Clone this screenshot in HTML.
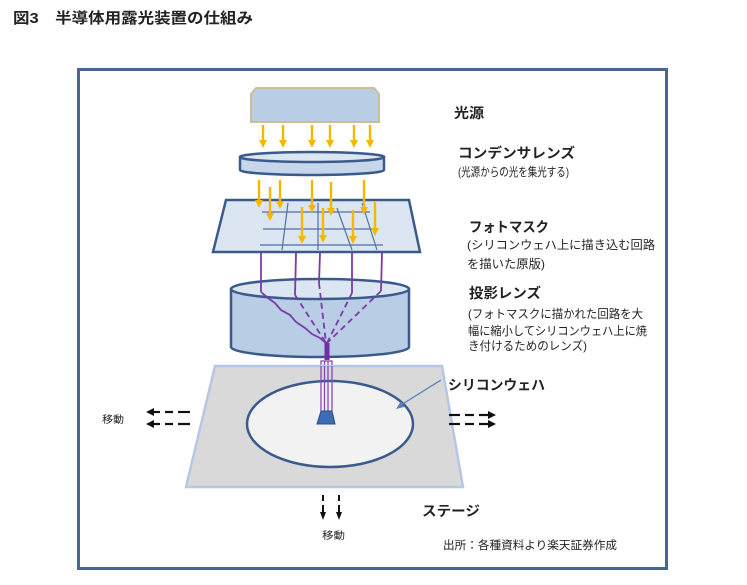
<!DOCTYPE html>
<html><head><meta charset="utf-8">
<style>
html,body{margin:0;padding:0;background:#fff;}
svg{display:block;}
text{font-family:"Liberation Sans","Noto Sans CJK JP",sans-serif;fill:#222;}
.b{font-weight:bold;}
</style></head>
<body>
<svg width="747" height="585" viewBox="0 0 747 585" xmlns="http://www.w3.org/2000/svg">

<!-- title -->
<text x="13" y="23" class="b" font-size="15" fill="#333" textLength="240" lengthAdjust="spacingAndGlyphs">図3　半導体用露光装置の仕組み</text>

<!-- frame -->
<rect x="78.5" y="69.5" width="588" height="499" fill="#fff" stroke="#4a6591" stroke-width="3"/>

<!-- light source -->
<path d="M251,122 L251,94 L256,88 L374,88 L379,94 L379,122 Z" fill="#b9cde5" stroke="#c9c09a" stroke-width="2"/>

<g stroke="#f5b800" stroke-width="2.4">
  <line x1="263" y1="125" x2="263" y2="141"/>
  <line x1="283" y1="125" x2="283" y2="141"/>
  <line x1="312" y1="125" x2="312" y2="141"/>
  <line x1="330" y1="125" x2="330" y2="141"/>
  <line x1="354" y1="125" x2="354" y2="141"/>
  <line x1="370" y1="125" x2="370" y2="141"/>
</g>
<g fill="#f5b800">
  <path d="M259,140 L267,140 L263,148 Z"/>
  <path d="M279,140 L287,140 L283,148 Z"/>
  <path d="M308,140 L316,140 L312,148 Z"/>
  <path d="M326,140 L334,140 L330,148 Z"/>
  <path d="M350,140 L358,140 L354,148 Z"/>
  <path d="M366,140 L374,140 L370,148 Z"/>
</g>

<!-- condenser lens -->
<path d="M240,157 L240,170 A72,5 0 0 0 384,170 L384,157 Z" fill="#c6d7ec" stroke="#3b5a8c" stroke-width="2.5"/>
<ellipse cx="312" cy="157" rx="72" ry="5" fill="#dce6f2" stroke="#3b5a8c" stroke-width="2.5"/>

<!-- photomask -->
<path d="M226,200 L409,200 L420,252 L213,252 Z" fill="#dce6f2" stroke="#3b5a8c" stroke-width="2.5"/>
<g stroke="#4f6fa8" stroke-width="1.2" fill="none">
  <line x1="262" y1="212" x2="370" y2="212"/>
  <line x1="263" y1="229" x2="376" y2="229"/>
  <line x1="260" y1="245" x2="383" y2="245"/>
  <line x1="288" y1="203" x2="282" y2="250"/>
  <line x1="318" y1="203" x2="318" y2="250"/>
  <line x1="337" y1="208" x2="352" y2="250"/>
  <line x1="362" y1="203" x2="377" y2="250"/>
</g>

<!-- condenser -> mask arrows -->
<g stroke="#f5b800" stroke-width="2.4">
  <line x1="259" y1="180" x2="259" y2="201"/>
  <line x1="270" y1="187" x2="270" y2="214"/>
  <line x1="280" y1="180" x2="280" y2="202"/>
  <line x1="312" y1="180" x2="312" y2="206"/>
  <line x1="331" y1="182" x2="331" y2="209"/>
  <line x1="364" y1="180" x2="364" y2="208"/>
  <line x1="302" y1="207" x2="302" y2="237"/>
  <line x1="323" y1="208" x2="323" y2="236"/>
  <line x1="353" y1="210" x2="353" y2="237"/>
  <line x1="375" y1="202" x2="375" y2="229"/>
</g>
<g fill="#f5b800">
  <path d="M255,200 L263,200 L259,208 Z"/>
  <path d="M266,213 L274,213 L270,221 Z"/>
  <path d="M276,201 L284,201 L280,209 Z"/>
  <path d="M308,205 L316,205 L312,213 Z"/>
  <path d="M327,208 L335,208 L331,216 Z"/>
  <path d="M360,207 L368,207 L364,215 Z"/>
  <path d="M298,236 L306,236 L302,244 Z"/>
  <path d="M319,235 L327,235 L323,243 Z"/>
  <path d="M349,236 L357,236 L353,244 Z"/>
  <path d="M371,228 L379,228 L375,236 Z"/>
</g>

<!-- projection lens -->
<path d="M231,289 L231,347 A89,10 0 0 0 409,347 L409,289 Z" fill="#b9cde5" stroke="#3b5a8c" stroke-width="2.5"/>
<ellipse cx="320" cy="289" rx="89" ry="10" fill="#dce6f2" stroke="#3b5a8c" stroke-width="2.5"/>

<!-- purple rays -->
<g stroke="#7b3aa8" stroke-width="1.8" fill="none">
  <line x1="261" y1="253" x2="261" y2="292"/>
  <line x1="296" y1="253" x2="295" y2="295"/>
  <line x1="320" y1="253" x2="319" y2="283"/>
  <line x1="352" y1="253" x2="352" y2="293"/>
  <line x1="382" y1="253" x2="381" y2="291"/>
  <path d="M261,292 L268,298 L275,303 L281,310 L290,315 L296,322 L305,328 L312,334 L320,338 L326,343"/>
</g>
<g stroke="#7b3aa8" stroke-width="1.8" fill="none" stroke-dasharray="6,4">
  <line x1="295" y1="295" x2="326" y2="343"/>
  <line x1="319" y1="283" x2="326" y2="343"/>
  <line x1="352" y1="293" x2="327" y2="343"/>
  <line x1="381" y1="291" x2="327" y2="343"/>
</g>
<!-- beam -->
<rect x="324.5" y="343" width="5" height="17" fill="#7030a0"/>
<g stroke="#8a45b8" stroke-width="1.3" fill="none">
  <rect x="321" y="361" width="11" height="50"/>
  <line x1="324.5" y1="361" x2="324.5" y2="411"/>
  <line x1="328" y1="361" x2="328" y2="411"/>
</g>

<!-- stage -->
<path d="M215,366 L442,366 L463,487 L186,487 Z" fill="#d9d9d9" stroke="#b4c8e6" stroke-width="2.5"/>
<ellipse cx="330" cy="424" rx="83" ry="43" fill="#f2f2f2" stroke="#3b5a8c" stroke-width="2.5"/>
<g stroke="#8a45b8" stroke-width="1.3" fill="none">
  <line x1="321" y1="366" x2="321" y2="411"/>
  <line x1="324.5" y1="366" x2="324.5" y2="411"/>
  <line x1="328" y1="366" x2="328" y2="411"/>
  <line x1="332" y1="366" x2="332" y2="411"/>
</g>
<path d="M321,411 L332,411 L335,424 L317,424 Z" fill="#3a6db3" stroke="#2c4f82" stroke-width="1"/>

<!-- callout line -->
<line x1="441" y1="380" x2="401" y2="405" stroke="#5b80b8" stroke-width="1.3"/>
<path d="M396,409 L401,401 L404,407 Z" fill="#5b80b8"/>

<!-- left move arrows -->
<g stroke="#111" stroke-width="2.2">
  <line x1="154" y1="412" x2="160" y2="412"/>
  <line x1="165" y1="412" x2="173" y2="412"/>
  <line x1="178" y1="412" x2="190" y2="412"/>
  <line x1="154" y1="424" x2="160" y2="424"/>
  <line x1="165" y1="424" x2="173" y2="424"/>
  <line x1="178" y1="424" x2="190" y2="424"/>
</g>
<g fill="#111">
  <path d="M146,412 L154,408 L154,416 Z"/>
  <path d="M146,424 L154,420 L154,428 Z"/>
</g>
<text x="102" y="423" font-size="10" textLength="22" lengthAdjust="spacingAndGlyphs">移動</text>

<!-- right move arrows -->
<g stroke="#111" stroke-width="2.2">
  <line x1="449" y1="415" x2="460" y2="415"/>
  <line x1="465" y1="415" x2="474" y2="415"/>
  <line x1="479" y1="415" x2="488" y2="415"/>
  <line x1="449" y1="424" x2="460" y2="424"/>
  <line x1="465" y1="424" x2="474" y2="424"/>
  <line x1="479" y1="424" x2="488" y2="424"/>
</g>
<g fill="#111">
  <path d="M496,415 L488,411 L488,419 Z"/>
  <path d="M496,424 L488,420 L488,428 Z"/>
</g>

<!-- down move arrows -->
<g stroke="#111" stroke-width="2">
  <line x1="323" y1="495" x2="323" y2="501"/>
  <line x1="323" y1="505" x2="323" y2="512"/>
  <line x1="339" y1="495" x2="339" y2="501"/>
  <line x1="339" y1="505" x2="339" y2="512"/>
</g>
<g fill="#111">
  <path d="M320,512 L326,512 L323,520 Z"/>
  <path d="M336,512 L342,512 L339,520 Z"/>
</g>
<text x="322" y="539" font-size="10" textLength="23" lengthAdjust="spacingAndGlyphs">移動</text>

<!-- labels -->
<text x="454" y="118" class="b" font-size="14" textLength="30" lengthAdjust="spacingAndGlyphs">光源</text>

<text x="458" y="158" class="b" font-size="14" textLength="117" lengthAdjust="spacingAndGlyphs">コンデンサレンズ</text>
<text x="458" y="176" font-size="12" textLength="111" lengthAdjust="spacingAndGlyphs">(光源からの光を集光する)</text>

<text x="469" y="232" class="b" font-size="14" textLength="80" lengthAdjust="spacingAndGlyphs">フォトマスク</text>
<text x="467" y="249" font-size="12" textLength="188" lengthAdjust="spacingAndGlyphs">(シリコンウェハ上に描き込む回路</text>
<text x="467" y="268" font-size="12" textLength="78" lengthAdjust="spacingAndGlyphs">を描いた原版)</text>

<text x="469" y="298" class="b" font-size="14" textLength="72" lengthAdjust="spacingAndGlyphs">投影レンズ</text>
<text x="468" y="318" font-size="12" textLength="175" lengthAdjust="spacingAndGlyphs">(フォトマスクに描かれた回路を大</text>
<text x="468" y="335" font-size="12" textLength="179" lengthAdjust="spacingAndGlyphs">幅に縮小してシリコンウェハ上に焼</text>
<text x="468" y="350" font-size="12" textLength="119" lengthAdjust="spacingAndGlyphs">き付けるためのレンズ)</text>

<text x="448" y="390" class="b" font-size="14" textLength="97" lengthAdjust="spacingAndGlyphs">シリコンウェハ</text>

<text x="422" y="516" class="b" font-size="14" textLength="58" lengthAdjust="spacingAndGlyphs">ステージ</text>

<text x="443" y="549" font-size="11.5" fill="#333" textLength="174" lengthAdjust="spacingAndGlyphs">出所：各種資料より楽天証券作成</text>
</svg>
</body></html>
